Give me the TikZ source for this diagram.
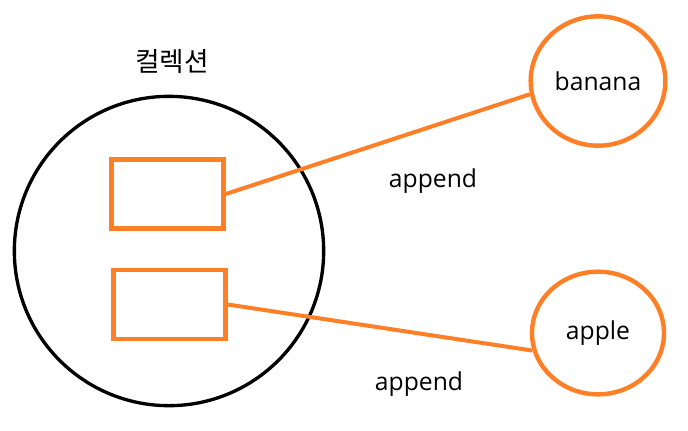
\documentclass[tikz,border=0pt]{standalone}
\usepackage{fontspec}
\setmainfont{Open Sans}
\newfontfamily\krfont{Noto Sans CJK KR}
\usetikzlibrary{shapes.geometric}
\definecolor{paintorange}{HTML}{FF7F27}
\begin{document}
\begin{tikzpicture}[x=0.75pt, y=-0.75pt, font=\fontsize{18.5}{22}\selectfont,
  slot/.style={draw=paintorange, line width=3.4pt, minimum width=84pt, minimum height=52pt, inner sep=0pt},
  item/.style={draw=paintorange, line width=3.3pt, ellipse, inner sep=0pt},
  link/.style={draw=paintorange, line width=3pt}]
  \useasboundingbox (0,0) rectangle (688,430);
  \node[draw, circle, line width=2.5pt, minimum size=232pt, inner sep=0pt] (coll) at (169,251) {};
  \node[font=\krfont\fontsize{20}{24}\selectfont] (title) at (172,62) {컬렉션};
  \node[slot] (box1) at (167.5,194) {};
  \node[slot] (box2) at (169.5,304.5) {};
  \node[item, minimum width=101pt, minimum height=97pt] (banana) at (598,81) {banana};
  \node[item, minimum width=99pt, minimum height=92pt] (apple) at (598,333) {apple};
  \draw[link] (box1.east) -- (banana.191);
  \draw[link] (box2.east) -- (apple.195);
  \node (lab1) at (433,181) {append};
  \node (lab2) at (419,384) {append};
\end{tikzpicture}
\end{document}
